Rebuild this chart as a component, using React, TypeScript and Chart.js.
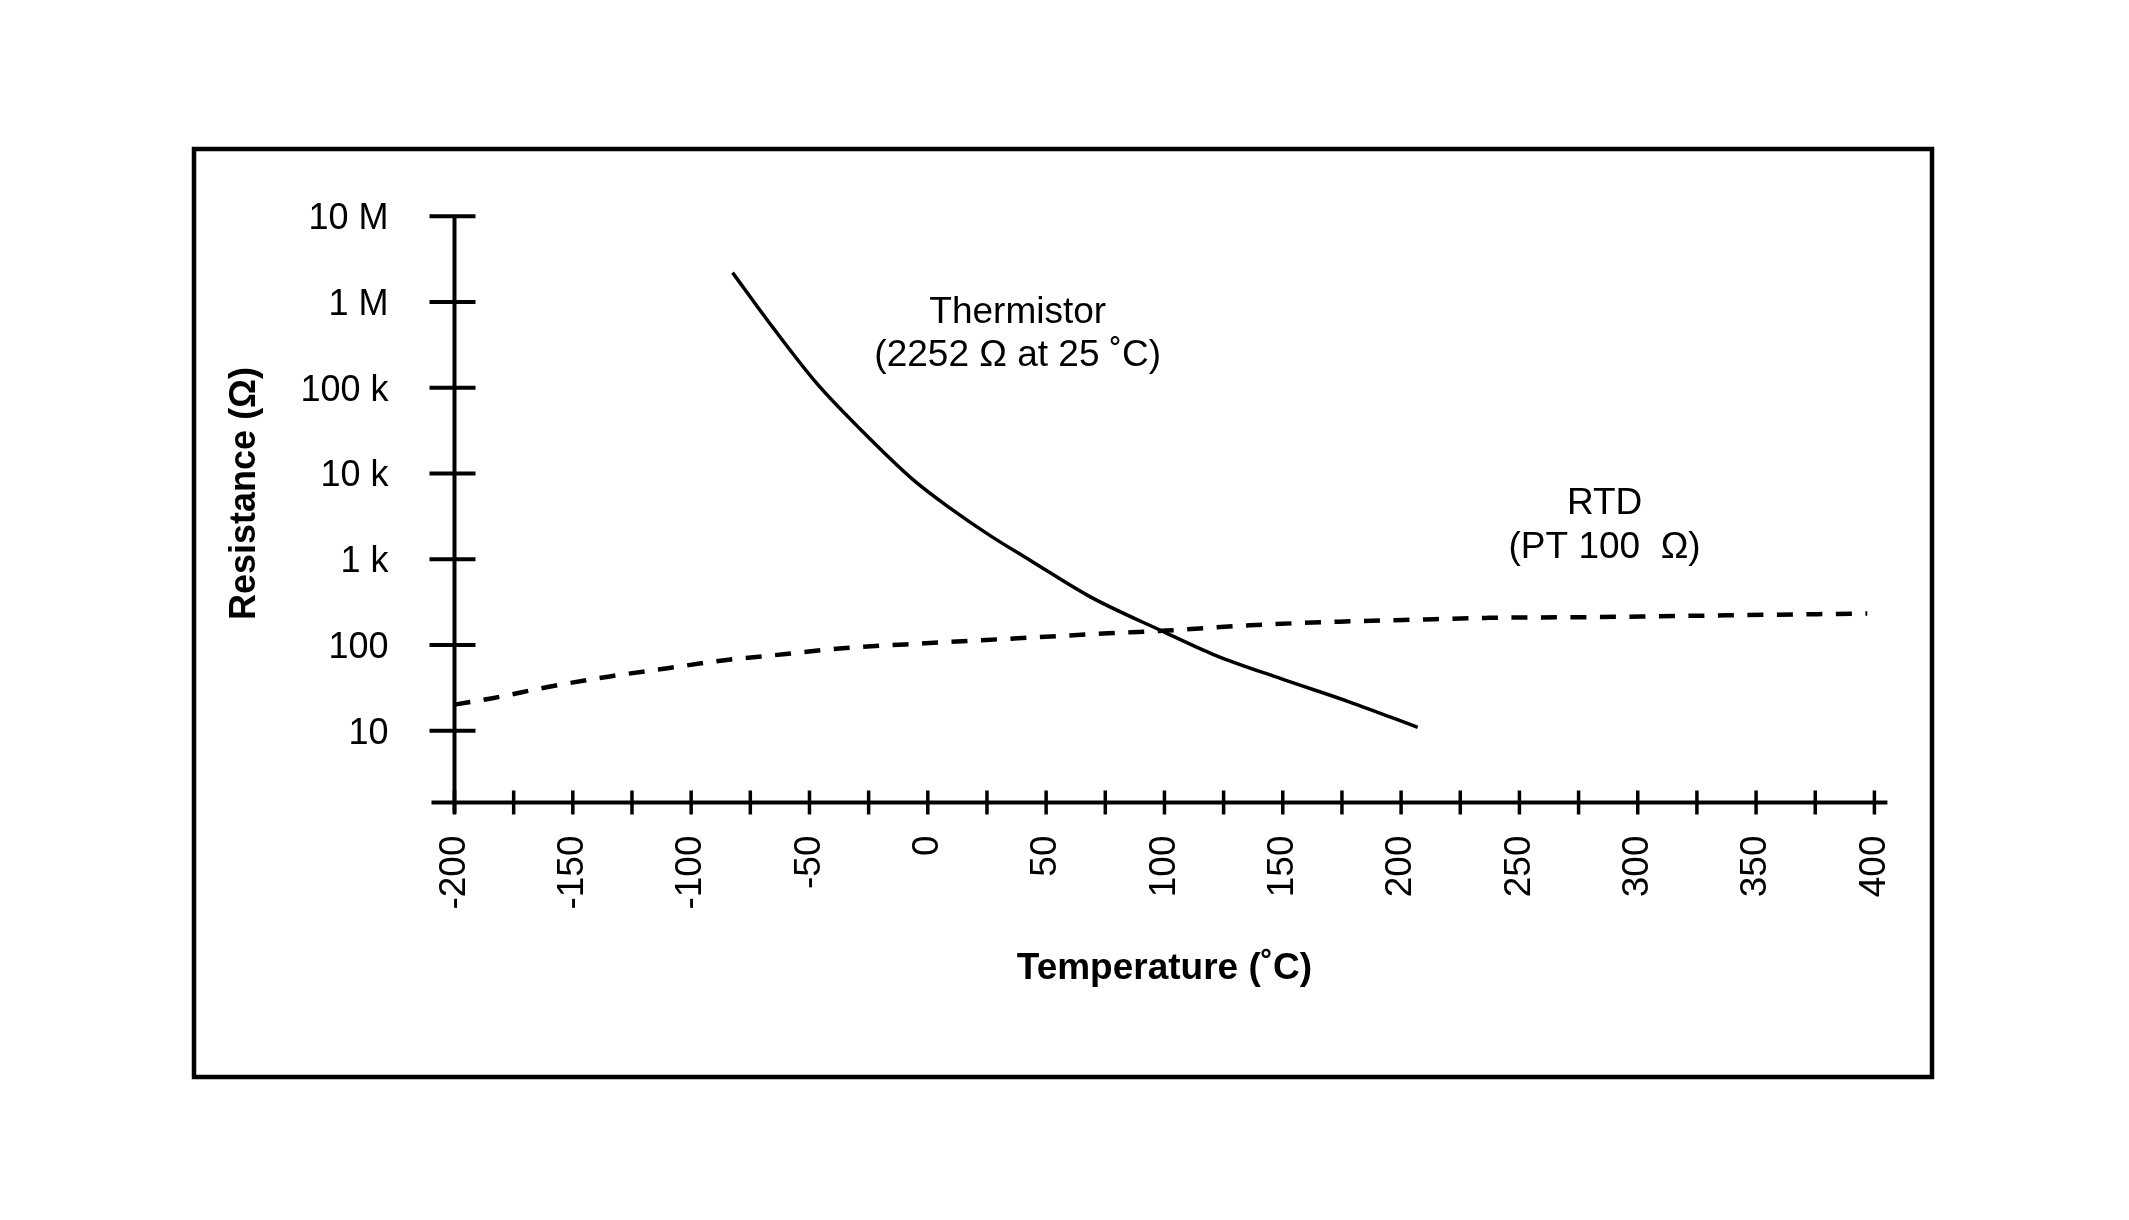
import React, { useEffect, useRef } from "react";
import { Chart, registerables } from "chart.js";

Chart.register(...registerables);

const FONT = '"Liberation Sans", Arial, Helvetica, sans-serif';

// ---- data ----
const thermistorTemps = [-82.5, -65.5, -47, -28.5, -6, 10, 26.5, 43, 68.5, 99.5, 121, 149.5, 178, 207];
const thermistorOhms = [2.2e6, 5.05e5, 1.13e5, 32800, 8360, 3840, 1875, 984, 367, 143.5, 77, 40.3, 21.8, 11];

const rtdTemps = [-200, -184, -160, -135, -110, -85, -61, -36, -1, 38, 76, 101, 136, 174, 201, 237, 283, 337, 397];
const rtdOhms = [20.2, 24, 32.7, 42.8, 53.7, 67, 78, 91.8, 105, 120, 137, 147.5, 170, 187.5, 196, 207.5, 212, 222, 233];

const xTickValues = [-200, -150, -100, -50, 0, 50, 100, 150, 200, 250, 300, 350, 400];
const xMinorTickValues = [
  -200, -175, -150, -125, -100, -75, -50, -25, 0, 25, 50, 75, 100, 125, 150, 175, 200,
  225, 250, 275, 300, 325, 350, 375, 400,
];
const yTickValues = [10, 100, 1000, 10000, 100000, 1000000, 10000000];
const yTickLabels = ["10", "100", "1 k", "10 k", "100 k", "1 M", "10 M"];

const X_MIN = -200;
const X_MAX = 400;
const Y_MIN = 1.46;
const Y_MAX = 1e7;

const xTitle = "Temperature (˚C)";
const yTitle = "Resistance (Ω)";
const thermistorLabel = ["Thermistor", "(2252 Ω at 25 ˚C)"];
const rtdLabel = ["RTD", "(PT 100  Ω)"];

// annotation anchors (in data units: °C, Ω)
const thermistorLabelAt = { x: 38, y: 7.55e5 };
const rtdLabelAt = { x: 286, y: 4425 };

export default function App() {
  const ref = useRef<HTMLCanvasElement>(null);

  useEffect(() => {
    const canvas = ref.current;
    if (!canvas) return;

    const axesPlugin = {
      id: "axesPlugin",
      beforeDatasetsDraw(chart: any) {
        const ctx = chart.ctx as CanvasRenderingContext2D;
        const xs = chart.scales.x;
        const ys = chart.scales.y;
        const x0 = xs.getPixelForValue(X_MIN);
        const x1 = xs.getPixelForValue(X_MAX);
        const yb = ys.getPixelForValue(Y_MIN);
        const yt = ys.getPixelForValue(Y_MAX);
        ctx.save();
        ctx.strokeStyle = "#000";
        ctx.lineCap = "butt";
        ctx.lineWidth = 4;
        ctx.beginPath();
        ctx.moveTo(x0 - 23, yb);
        ctx.lineTo(x1 + 13, yb);
        ctx.moveTo(x0, yt - 1);
        ctx.lineTo(x0, yb + 11);
        for (const v of yTickValues) {
          const y = ys.getPixelForValue(v);
          ctx.moveTo(x0 - 25, y);
          ctx.lineTo(x0 + 21, y);
        }
        ctx.stroke();
        ctx.lineWidth = 3.5;
        ctx.beginPath();
        for (const v of xMinorTickValues) {
          const x = xs.getPixelForValue(v);
          ctx.moveTo(x, yb - 12);
          ctx.lineTo(x, yb + 12);
        }
        ctx.stroke();
        ctx.restore();
      },
      afterDraw(chart: any) {
        const ctx = chart.ctx as CanvasRenderingContext2D;
        const xs = chart.scales.x;
        const ys = chart.scales.y;
        ctx.save();
        // frame
        ctx.strokeStyle = "#000";
        ctx.lineWidth = 4.5;
        ctx.strokeRect(194, 149, 1738, 928);

        // y title
        ctx.fillStyle = "#000";
        ctx.font = `bold 36px ${FONT}`;
        ctx.textAlign = "center";
        ctx.textBaseline = "middle";
        ctx.translate(245.5, 493.5);
        ctx.rotate(-Math.PI / 2);
        ctx.fillText(yTitle, 0, 0);
        ctx.setTransform(1, 0, 0, 1, 0, 0);

        // annotations
        ctx.font = `37px ${FONT}`;
        ctx.textAlign = "center";
        ctx.textBaseline = "middle";
        const drawLabel = (lines: string[], at: { x: number; y: number }, gap: number) => {
          const px = xs.getPixelForValue(at.x);
          const py = ys.getPixelForValue(at.y);
          lines.forEach((l, i) => ctx.fillText(l, px, py + i * gap));
        };
        drawLabel(thermistorLabel, thermistorLabelAt, 43.5);
        drawLabel(rtdLabel, rtdLabelAt, 44);
        ctx.restore();
      },
    };

    const chart = new Chart(canvas, {
      type: "line",
      data: {
        datasets: [
          {
            label: "RTD",
            data: rtdTemps.map((t, i) => ({ x: t, y: rtdOhms[i] })),
            borderColor: "#000",
            borderWidth: 4.5,
            borderDash: [16, 13.5],
            cubicInterpolationMode: "monotone",
            pointRadius: 0,
            fill: false,
          },
          {
            label: "Thermistor",
            data: thermistorTemps.map((t, i) => ({ x: t, y: thermistorOhms[i] })),
            borderColor: "#000",
            borderWidth: 3.5,
            cubicInterpolationMode: "monotone",
            pointRadius: 0,
            fill: false,
          },
        ],
      },
      options: {
        responsive: false,
        animation: false,
        devicePixelRatio: 1,
        layout: { padding: { left: 200, right: 254.6, top: 216.2, bottom: 217.5 } },
        plugins: {
          legend: { display: false },
          tooltip: { enabled: false },
          title: { display: false },
        },
        scales: {
          x: {
            type: "linear",
            position: "bottom",
            min: X_MIN,
            max: X_MAX,
            grid: { display: false },
            border: { display: false },
            afterBuildTicks: (s: any) => {
              s.ticks = xTickValues.map((v) => ({ value: v }));
            },
            afterFit: (s: any) => {
              s.height = 200;
            },
            ticks: {
              autoSkip: false,
              minRotation: 90,
              maxRotation: 90,
              padding: 25,
              color: "#000",
              font: { family: FONT, size: 37 },
              callback: (v: any) => String(v),
            },
            title: {
              display: true,
              text: xTitle,
              color: "#000",
              font: { family: FONT, size: 37, weight: "bold" },
              padding: { top: 0, bottom: 11.4 },
            },
          },
          y: {
            type: "logarithmic",
            min: Y_MIN,
            max: Y_MAX,
            grid: { display: false },
            border: { display: false },
            afterBuildTicks: (s: any) => {
              s.ticks = yTickValues.map((v) => ({ value: v }));
            },
            afterFit: (s: any) => {
              s.width = 254.5;
            },
            ticks: {
              autoSkip: false,
              padding: 58,
              labelOffset: 3,
              color: "#000",
              font: { family: FONT, size: 36 },
              callback: (_v: any, i: number) => yTickLabels[i],
            },
          },
        },
      } as any,
      plugins: [axesPlugin],
    });

    return () => chart.destroy();
  }, []);

  return (
    <div style={{ position: "fixed", left: 0, top: 0, width: 2129, height: 1220, background: "#fff" }}>
      <canvas ref={ref} width={2129} height={1220} style={{ display: "block" }} />
    </div>
  );
}
